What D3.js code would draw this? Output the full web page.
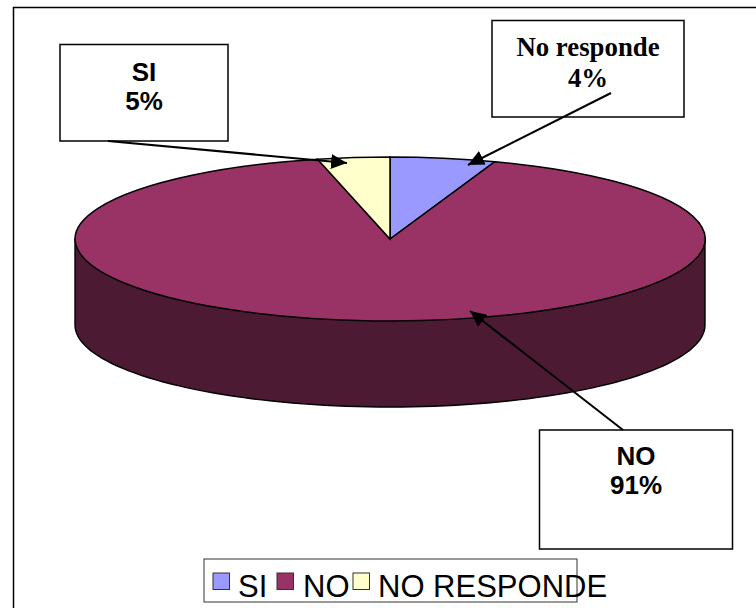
<!DOCTYPE html>
<html><head><meta charset="utf-8">
<script src="https://cdn.jsdelivr.net/npm/d3@7"></script>
<style>html,body{margin:0;padding:0;background:#fff}svg{display:block}</style>
</head><body><svg id="c" width="756" height="608"></svg>
<script>
const categories = ["SI","NO","NO RESPONDE"];
const values = [5.4, 90.9, 3.7];
const colors = ["#9999FF","#993366","#FFFFCC"];
const calloutNames = ["SI","NO","No responde"];
const calloutFonts = ["Liberation Sans","Liberation Sans","Liberation Serif"];

const W=756,H=608,cx=390,cy=239,rx=315,ry=82,depth=86;
const svg=d3.select("#c");
svg.append("path").attr("d",`M13.5,${H}V7.5H${W}`).attr("fill","none").attr("stroke","#000").attr("stroke-width",1.5);

const defs=svg.append("defs");
defs.append("marker").attr("id","ah").attr("markerUnits","userSpaceOnUse")
  .attr("viewBox","0 0 16 15").attr("refX",16).attr("refY",7.5)
  .attr("markerWidth",16).attr("markerHeight",15).attr("orient","auto")
  .append("path").attr("d","M0,0L16,7.5L0,15Z").attr("fill","#000");

const sx=d3.scaleLinear().domain([-1,1]).range([cx-rx,cx+rx]);
const sy=d3.scaleLinear().domain([-1,1]).range([cy-ry,cy+ry]);
const side=d3.line().x(d=>sx(Math.cos(d))).y(d=>sy(Math.sin(d))+depth);
const ang=d3.range(0,181,2).map(d=>d*Math.PI/180);
svg.append("path")
  .attr("d",`M${sx(-1)},${cy}L${sx(-1)},${cy+depth}`+side(ang.slice().reverse()).replace(/^M/,"L")+`L${sx(1)},${cy}Z`)
  .attr("fill","#4D1A33").attr("stroke","#000").attr("stroke-width",1.4);

const pie=d3.pie().sort(null)(values);
const arc=d3.arc().innerRadius(0).outerRadius(1);
svg.append("g").attr("transform",`translate(${cx},${cy}) scale(${rx},${ry})`)
  .selectAll("path").data(pie).join("path")
  .attr("d",arc).attr("fill",(d,i)=>colors[i])
  .attr("stroke","#000").attr("stroke-width",1.5).attr("vector-effect","non-scaling-stroke");

const boxes=[{x:60,y:44.5,w:168,h:96.5,tx:144,b1:81,b2:110,idx:0,fs:26},
             {x:539.5,y:430,w:193,h:119,tx:636,b1:465,b2:494,idx:1,fs:26},
             {x:492,y:20.5,w:192,h:96.5,tx:588,b1:56,b2:87,idx:2,fs:26.8}];
const g=svg.append("g").selectAll("g").data(boxes).join("g");
g.append("rect").attr("x",d=>d.x).attr("y",d=>d.y).attr("width",d=>d.w).attr("height",d=>d.h)
  .attr("fill","#fff").attr("stroke","#000").attr("stroke-width",1.5);
g.append("text").attr("x",d=>d.tx).attr("y",d=>d.b1).attr("text-anchor","middle")
  .attr("font-family",d=>calloutFonts[d.idx]).attr("font-weight","bold").attr("font-size",d=>d.fs)
  .text(d=>calloutNames[d.idx]);
g.append("text").attr("x",d=>d.tx).attr("y",d=>d.b2).attr("text-anchor","middle")
  .attr("font-family",d=>calloutFonts[d.idx]).attr("font-weight","bold").attr("font-size",d=>d.fs)
  .text(d=>d3.format(".0f")(values[d.idx])+"%");

const arrows=[[108,141,347,163],[611,93,468,165],[623,430,470,311]];
svg.append("g").selectAll("line").data(arrows).join("line")
  .attr("x1",d=>d[0]).attr("y1",d=>d[1]).attr("x2",d=>d[2]).attr("y2",d=>d[3])
  .attr("stroke","#000").attr("stroke-width",2).attr("marker-end","url(#ah)");

svg.append("rect").attr("x",204).attr("y",559).attr("width",373).attr("height",43)
  .attr("fill","none").attr("stroke","#333").attr("stroke-width",1);
const leg=[{sw:213,t:238},{sw:277,t:303},{sw:353,t:378}];
const lg=svg.append("g").selectAll("g").data(leg).join("g");
lg.append("rect").attr("x",d=>d.sw).attr("y",573).attr("width",16.5).attr("height",16.5)
  .attr("fill",(d,i)=>colors[i]).attr("stroke","#333").attr("stroke-width",1);
lg.append("text").attr("x",d=>d.t).attr("y",597).attr("font-family","Liberation Sans")
  .attr("font-size",31).attr("fill","#000").text((d,i)=>categories[i]);
</script></body></html>
